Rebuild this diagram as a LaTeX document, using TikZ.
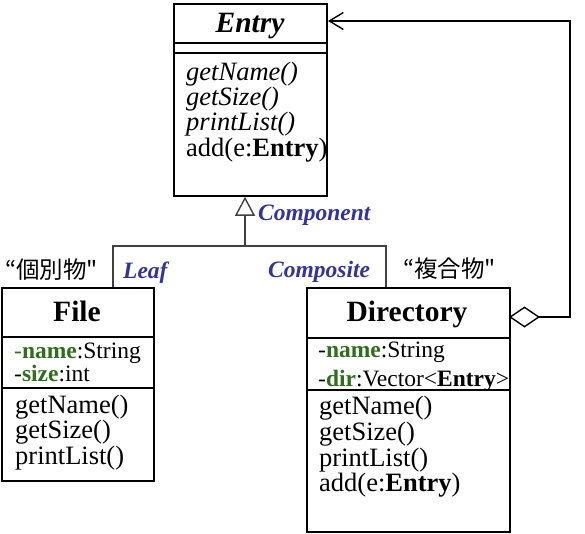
\documentclass[tikz,border=0pt]{standalone}
\usepackage{fontspec}
\setmainfont{Liberation Serif}
\newfontfamily\jpfont{Noto Sans CJK JP}
\usetikzlibrary{arrows.meta}
\definecolor{umlblue}{RGB}{51,51,153}
\definecolor{umlgreen}{RGB}{46,110,30}
\begin{document}
\begin{tikzpicture}[x=1pt,y=-1pt,
  box/.style={draw=black,line width=1.8pt,inner sep=0,anchor=north west},
  sep/.style={draw=black,line width=1.8pt},
  conn/.style={draw=black!75,line width=1.6pt},
  ttl/.style={font=\fontsize{29.5}{32}\selectfont\bfseries,anchor=base,inner sep=0},
  meth/.style={font=\fontsize{26.5}{27}\selectfont,anchor=base west,inner sep=0},
  methi/.style={font=\fontsize{26.5}{27}\selectfont\itshape,anchor=base west,inner sep=0},
  attr/.style={font=\fontsize{23.5}{24}\selectfont,anchor=base west,inner sep=0},
  lbl/.style={font=\fontsize{23.5}{25}\selectfont\bfseries\itshape,text=umlblue,anchor=base west,inner sep=0},
  jp/.style={font=\fontsize{23.5}{25}\selectfont\jpfont,anchor=base west,inner sep=0}]
\useasboundingbox (0,0) rectangle (585,533);

% boxes
\node[box,minimum width=153pt,minimum height=192pt] (entry) at (173,3) {};
\node[box,minimum width=152pt,minimum height=193pt] (file) at (1,287) {};
\node[box,minimum width=203pt,minimum height=244pt] (dir) at (306,287) {};

% separators
\draw[sep] (entry.west |- 0,43) -- (entry.east |- 0,43);
\draw[sep] (entry.west |- 0,53) -- (entry.east |- 0,53);
\draw[sep] (file.west |- 0,337) -- (file.east |- 0,337);
\draw[sep] (file.west |- 0,388) -- (file.east |- 0,388);
\draw[sep] (dir.west |- 0,338) -- (dir.east |- 0,338);
\draw[sep] (dir.west |- 0,390) -- (dir.east |- 0,390);

% Entry text
\node[ttl,font=\fontsize{29.5}{32}\selectfont\bfseries\itshape] (entryT) at (250,32) {Entry};
\node[methi] (e1) at (186,80) {getName()};
\node[methi] (e2) at (186,105) {getSize()};
\node[methi] (e3) at (186,130) {printList()};
\node[meth] (e4) at (186,156) {add(e:\textbf{Entry})};

% File text
\node[ttl] (fileT) at (77,321) {File};
\node[attr] (fa1) at (14,358) {\textcolor{umlgreen}{-\textbf{name}}:String};
\node[attr] (fa2) at (14,381) {-\textcolor{umlgreen}{\textbf{size}}:int};
\node[meth] (f1) at (15,413) {getName()};
\node[meth] (f2) at (15,438) {getSize()};
\node[meth] (f3) at (15,464) {printList()};

% Directory text
\node[ttl] (dirT) at (407,321) {Directory};
\node[attr] (da1) at (318,357) {-\textcolor{umlgreen}{\textbf{name}}:String};
\node[attr] (da2) at (318,386) {-\textcolor{umlgreen}{\textbf{dir}}:Vector<\textbf{Entry}>};
\node[meth] (d1) at (319,414) {getName()};
\node[meth] (d2) at (319,440) {getSize()};
\node[meth] (d3) at (319,466) {printList()};
\node[meth] (d4) at (319,491) {add(e:\textbf{Entry})};

% labels
\node[lbl] (lComp) at (258,220) {Component};
\node[lbl] (lLeaf) at (123,278) {Leaf};
\node[lbl] (lCompo) at (268,277) {Composite};
\node[jp] (jLeaf) at (5,278) {“個別物"};
\node[jp] (jComp) at (403,277) {“複合物"};

% generalization
\coordinate (jl) at (113,246);
\coordinate (jm) at (245,246);
\coordinate (jr) at (386,246);
\draw[conn] (file.north -| jl) -- (jl) -- (jr) -- (dir.north -| jr);
\draw[conn,-{Triangle[open,length=19pt,width=20pt,line width=1.4pt]}] (jm) -- (entry.south -| jm);

% aggregation
\coordinate (dA) at (509,317);
\coordinate (eA) at (328,21);
\draw[conn,draw=black,{Diamond[open,length=31pt,width=21pt,line width=1.4pt]}-{Straight Barb[length=14pt,width=17pt,line width=1.4pt]}]
  (dA) -- ++(61,0) |- (eA);
\end{tikzpicture}
\end{document}
